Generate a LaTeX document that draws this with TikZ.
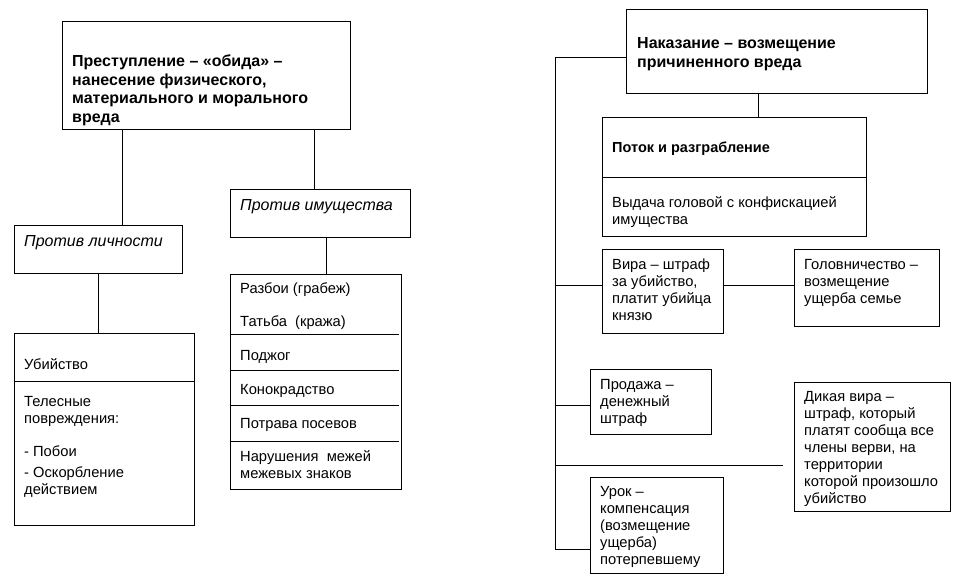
\documentclass[tikz,border=0pt]{standalone}
\usepackage{fontspec}
\setmainfont{Liberation Sans}
\begin{document}
\begin{tikzpicture}[x=1pt,y=-1pt,
  box/.style={draw=black,line width=1pt,inner sep=0pt,anchor=north west},
  conn/.style={draw=black,line width=1pt},
  txt/.style={inner sep=0pt,anchor=north west,align=left,font=\fontsize{14.7}{17}\selectfont},
  btxt/.style={inner sep=0pt,anchor=north west,align=left,font=\fontsize{16}{18.5}\selectfont\bfseries},
  itxt/.style={inner sep=0pt,anchor=north west,align=left,font=\fontsize{16}{18}\selectfont\itshape}]
\fill[white] (0,0) rectangle (960,582);
\useasboundingbox (0,0) rectangle (960,582);
% left part
\node[box,minimum width=288pt,minimum height=108pt] (crime) at (62,21) {};
\node[box,minimum width=168pt,minimum height=48pt] (pers) at (14,225) {};
\node[box,minimum width=180pt,minimum height=48pt] (prop) at (230,189) {};
\node[box,minimum width=180pt,minimum height=192pt] (kill) at (14,333) {};
\node[box,minimum width=171pt,minimum height=215pt] (plist) at (230,274) {};
\draw[conn] (14,381) -- (194,381);
\foreach \yy in {334,370,405,441} \draw[conn] (230,\yy) -- (399,\yy);
\node[btxt] (crimet) at (72,53.5) {\strut Преступление – «обида» –\\нанесение физического,\\материального и морального\\вреда};
\node[itxt] (perst) at (24,234) {\strut Против личности};
\node[itxt] (propt) at (240,198) {\strut Против имущества};
\node[txt] (killt1) at (24,357) {\strut Убийство};
\node[txt] (killt2) at (24,394) {\strut Телесные\\повреждения:};
\node[txt] (killt3) at (24,444) {\strut - Побои};
\node[txt] (killt4) at (24,465) {\strut - Оскорбление\\действием};
\node[txt] (pl1) at (240,281) {\strut Разбои (грабеж)};
\node[txt] (pl2) at (240,314) {\strut Татьба\ \ (кража)};
\node[txt] (pl3) at (240,348) {\strut Поджог};
\node[txt] (pl4) at (240,382) {\strut Конокрадство};
\node[txt] (pl5) at (240,416) {\strut Потрава посевов};
\node[txt] (pl6) at (240,449) {\strut Нарушения\ \ межей\\межевых знаков};
\draw[conn] (crime.south -| 122,0) -- (pers.north -| 122,0);
\draw[conn] (crime.south -| 314,0) -- (prop.north -| 314,0);
\draw[conn] (pers.south -| 98,0) -- (kill.north -| 98,0);
\draw[conn] (prop.south -| 326,0) -- (plist.north -| 326,0);
% right part
\node[box,minimum width=301pt,minimum height=84pt] (nak) at (626,9) {};
\node[box,minimum width=264pt,minimum height=119pt] (potok) at (602,117) {};
\draw[conn] (602,177) -- (866,177);
\node[box,minimum width=121pt,minimum height=84pt] (vira) at (602,249) {};
\node[box,minimum width=145pt,minimum height=77pt] (golov) at (794,249) {};
\node[box,minimum width=121pt,minimum height=65pt] (prod) at (590,369) {};
\node[box,minimum width=156pt,minimum height=129pt] (dik) at (794,382) {};
\node[box,minimum width=133pt,minimum height=96pt] (urok) at (590,477) {};
\node[btxt] (nakt) at (637,35.5) {\strut Наказание – возмещение\\причиненного вреда};
\node[btxt,font=\fontsize{14.5}{17}\selectfont\bfseries] (potokt) at (612,140) {\strut Поток и разграбление};
\node[txt] (potokt2) at (612,195) {\strut Выдача головой с конфискацией\\имущества};
\node[txt] (virat) at (612,257) {\strut Вира – штраф\\за убийство,\\платит убийца\\князю};
\node[txt] (golovt) at (804,257) {\strut Головничество –\\возмещение\\ущерба семье};
\node[txt] (prodt) at (600,377) {\strut Продажа –\\денежный\\штраф};
\node[txt] (dikt) at (804,389) {\strut Дикая вира –\\штраф, который\\платят сообща все\\члены верви, на\\территории\\которой произошло\\убийство};
\node[txt] (urokt) at (600,484) {\strut Урок –\\компенсация\\(возмещение\\ущерба)\\потерпевшему};
\coordinate (s1) at (555,57);
\coordinate (s2) at (555,285);
\coordinate (s3) at (555,405);
\coordinate (s4) at (555,465);
\coordinate (s5) at (555,549);
\coordinate (dfree) at (783,465);
\draw[conn] (s1) -- (s5);
\draw[conn] (s1) -- (s1 -| nak.west);
\draw[conn] (s2) -- (s2 -| vira.west);
\draw[conn] (s3) -- (s3 -| prod.west);
\draw[conn] (s4) -- (dfree);
\draw[conn] (s5) -- (s5 -| urok.west);
\draw[conn] (vira.east |- s2) -- (golov.west |- s2);
\draw[conn] (nak.south -| 758,0) -- (potok.north -| 758,0);
\end{tikzpicture}
\end{document}
